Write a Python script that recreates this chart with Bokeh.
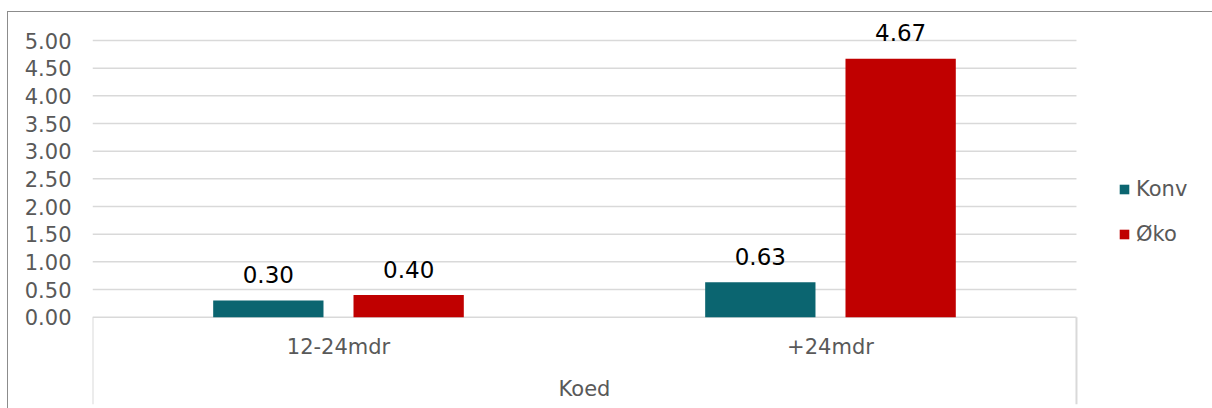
from bokeh.plotting import figure
from bokeh.models import (Range1d, FixedTicker, NumeralTickFormatter,
                          ColumnDataSource, Legend, LegendItem)
from bokeh.core.properties import value
from bokeh.embed import file_html
from bokeh.resources import INLINE

# ---- data ----
categories = ["12-24mdr", "+24mdr"]
group_label = ["Koed"]
series_names = ["Konv", "Øko"]
konv = [0.30, 0.63]
oko = [0.40, 4.67]
y_ticks = [0.0, 0.5, 1.0, 1.5, 2.0, 2.5, 3.0, 3.5, 4.0, 4.5, 5.0]

# ---- style ----
colors = ["#0B6570", "#C00000"]
FONT = "DejaVu Sans"
GRAY = "#595959"
GRID = "#D9D9D9"

n = len(categories)
xc = [i + 0.5 for i in range(n)]          # category centres (one unit per category)
off = 0.1426                               # dodge of each series from the centre
bw = 0.2242                                # bar width

p = figure(width=1205, height=397, title=None,
           x_range=Range1d(0, 2.2785),
           y_range=Range1d(-1.578, 5.3976),
           output_backend="svg", toolbar_location=None,
           min_border_left=84, min_border_right=0, min_border_top=6, min_border_bottom=5)
p.margin = (11, 0, 0, 7)
p.styles = {"border-left": "1px solid #8C8C8C", "border-top": "1px solid #8C8C8C"}
p.outline_line_color = None
p.background_fill_color = "white"
p.border_fill_color = "white"
p.xaxis.visible = False
p.xgrid.visible = False
p.ygrid.visible = False

ticker = FixedTicker(ticks=y_ticks)
yax = p.yaxis[0]
yax.ticker = ticker
yax.formatter = NumeralTickFormatter(format="0.00")
yax.axis_line_color = None
yax.major_tick_line_color = None
yax.minor_tick_line_color = None
yax.major_tick_out = 0
yax.major_tick_in = 0
yax.major_label_standoff = 21
yax.major_label_text_font = FONT
yax.major_label_text_font_size = "21px"
yax.major_label_text_color = GRAY

# horizontal gridlines spanning only the category area
p.segment(x0=[0] * len(y_ticks), x1=[n] * len(y_ticks), y0=y_ticks, y1=y_ticks,
          line_color=GRID, line_width=1.5)

# category axis box lines
p.segment(x0=[0, n], y0=[0, 0], x1=[0, n],
          y1=[p.y_range.start, p.y_range.start],
          line_color=GRID, line_width=2)

src = ColumnDataSource(dict(
    cat=categories,
    xc=xc,
    xk=[x - off for x in xc],
    xo=[x + off for x in xc],
    konv=konv,
    oko=oko,
    konv_lbl=[f"{v:.2f}" for v in konv],
    oko_lbl=[f"{v:.2f}" for v in oko],
))

r1 = p.vbar(x="xk", top="konv", width=bw, fill_color=colors[0], line_color=None, source=src)
r2 = p.vbar(x="xo", top="oko", width=bw, fill_color=colors[1], line_color=None, source=src)

for xcol, col in (("xk", "konv"), ("xo", "oko")):
    p.text(x=xcol, y=col, text=col + "_lbl", source=src,
           text_align="center", text_baseline="middle", y_offset=-26,
           text_font=value(FONT), text_font_size="23px", text_color="#000000")

# category labels and group label
p.text(x="xc", y=-0.53, text="cat", source=src,
       text_align="center", text_baseline="middle",
       text_font=value(FONT), text_font_size="21px", text_color=GRAY)
p.text(x=[n / 2], y=[-1.289], text=group_label,
       text_align="center", text_baseline="middle",
       text_font=value(FONT), text_font_size="21px", text_color=GRAY)

legend = Legend(items=[LegendItem(label=series_names[0], renderers=[r1]),
                       LegendItem(label=series_names[1], renderers=[r2])],
                location=(1026, 158), orientation="vertical",
                glyph_width=12, glyph_height=12, label_standoff=6,
                label_height=21, spacing=21, padding=0, margin=0,
                label_text_font=FONT, label_text_font_size="21px",
                label_text_color=GRAY, border_line_color=None,
                background_fill_alpha=0)
p.add_layout(legend, "center")

open("out.html", "w").write(file_html(p, INLINE))
